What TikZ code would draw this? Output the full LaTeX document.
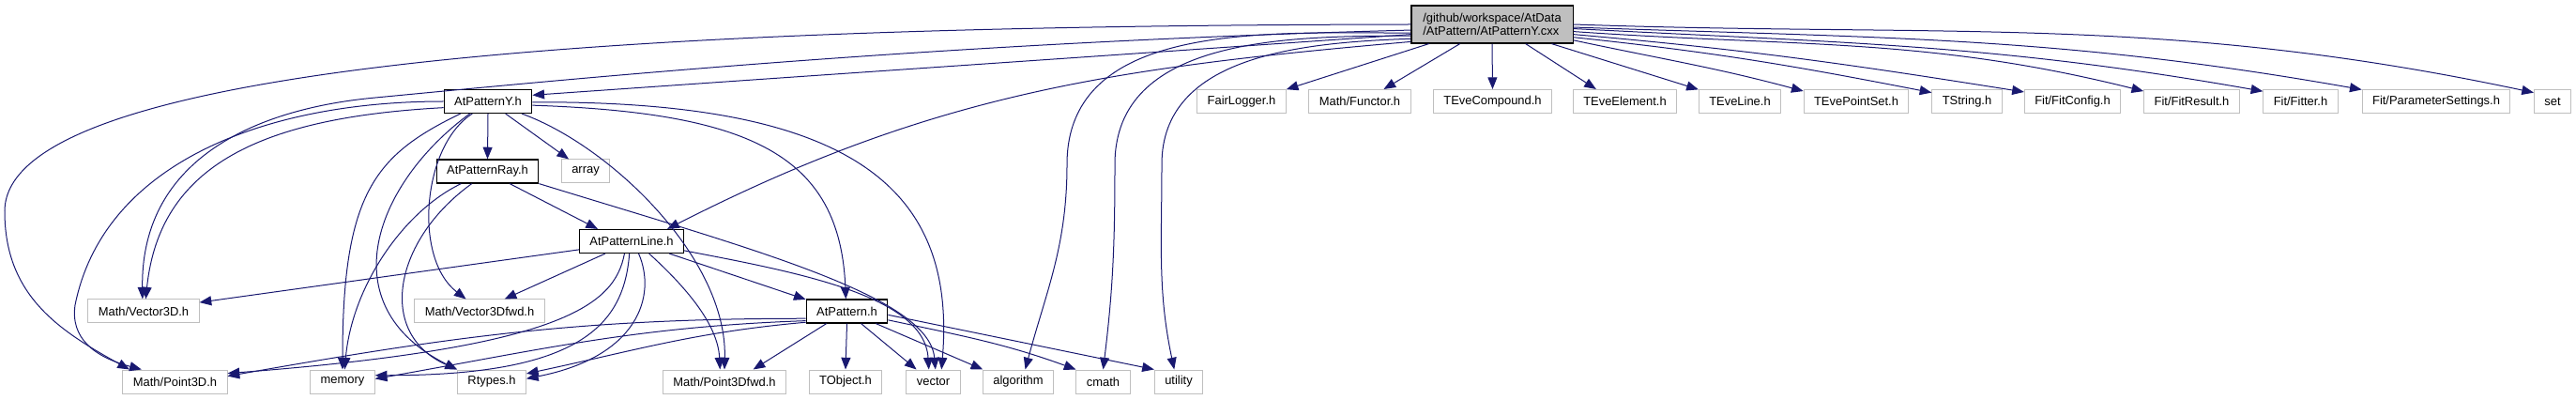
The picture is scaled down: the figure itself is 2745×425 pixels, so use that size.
\documentclass[tikz,border=0pt]{standalone}
\usepackage{fontspec}
\setmainfont{Liberation Sans}
\usetikzlibrary{arrows.meta}
\definecolor{edgeblue}{HTML}{191970}
\definecolor{sysgray}{HTML}{BFBFBF}
\tikzset{
	header/.style={draw=black,line width=0.9pt,fill=white,inner xsep=8.2pt,inner ysep=0pt,minimum height=18.75pt,font=\fontsize{9.7}{10.5}\selectfont},
	syshdr/.style={header,draw=sysgray,line width=0.75pt},
	dep/.style={draw=edgeblue,line width=0.75pt,-{Triangle[length=9.5pt,width=7.5pt]}}
}

\begin{document}
\begin{tikzpicture}[x=0.75pt,y=0.75pt]
\useasboundingbox (0,0) rectangle (2745,425);

%headers of the package
\node[header,fill=sysgray,align=left,minimum height=30pt,inner xsep=9.3pt] (root) at (1590,399) {/github/workspace/AtData\\/AtPattern/AtPatternY.cxx};
\node[header] (patY) at (520,317) {AtPatternY.h};
\node[header] (patRay) at (519.5,242.5) {AtPatternRay.h};
\node[header] (patLine) at (673,168) {AtPatternLine.h};
\node[header] (pat) at (902.5,93.5) {AtPattern.h};

%system headers
\node[syshdr] (array) at (624,242.5) {array};
\node[syshdr] (vecThree) at (153,93.5) {Math/Vector3D.h};
\node[syshdr] (vecFwd) at (511,93.5) {Math/Vector3Dfwd.h};
\foreach \nm/\x/\txt in {ptThree/186.5/{Math/Point3D.h},memory/365/memory,rtypes/524/Rtypes.h,ptFwd/772/{Math/Point3Dfwd.h},tobject/901/TObject.h,vector/994.5/vector,algorithm/1085/algorithm,cmath/1175.5/cmath,utility/1256/utility}
	\node[syshdr] (\nm) at (\x,18.5) {\txt};
\foreach \nm/\x/\txt in {logger/1323/FairLogger.h,functor/1449/{Math/Functor.h},compound/1590.5/TEveCompound.h,element/1731.5/TEveElement.h,eveline/1854/TEveLine.h,pointset/1978/TEvePointSet.h,tstring/2096/TString.h,fitconfig/2208.5/{Fit/FitConfig.h},fitresult/2335.5/{Fit/FitResult.h},fitter/2451.5/{Fit/Fitter.h},parset/2596/{Fit/ParameterSettings.h},set/2720/set}
	\node[syshdr] (\nm) at (\x,317) {\txt};

%includes of the .cxx
\draw[dep] (root.187) to[out=184,in=4] (patY.8);
\draw[dep] (root.184) .. controls (1000,380) and (600,340) .. (400,321) .. controls (280,310) and (150,260) .. (vecThree.95);
\draw[dep] (root.west) .. controls (700,398) and (5,360) .. (5,200) .. controls (5,110) and (63,73) .. (ptThree.165);
\draw[dep] (root.192) to[out=185,in=27] (patLine.19);
\draw[dep] (root.186) to[out=180,in=90] (1137,250) to[out=-90,in=75] (algorithm.60);
\draw[dep] (root.188) to[out=180,in=90] (1188,250) to[out=-90,in=83] (cmath.north);
\draw[dep] (root.190) to[out=182,in=90] (1238,250) to[out=-90,in=102] (utility.110);
\draw[dep] (root.197) -- (logger.15);
\draw[dep] (root.211) -- (functor.27);
\draw[dep] (root.south) -- (compound.north);
\draw[dep] (root.-30) -- (element.157);
\draw[dep] (root.-18) -- (eveline.164);
\foreach \nm/\s/\o/\i/\a in {pointset/-11/-12/165/169,tstring/-9/-6/169/166,fitconfig/-7/-5/171/169,fitresult/-5/-4/166/168,fitter/-3/-3/170/165,parset/-2/-2/170/171,set/0/-2/168/155}
	\draw[dep] (root.\s) to[out=\o,in=\i] (\nm.\a);

%AtPatternY.h
\draw[dep] (patY.south) -- (patRay.north);
\draw[dep] (patY.-35) -- (array.144);
\draw[dep] (patY.188) .. controls (280,300) and (170,250) .. (vecThree.80);
\draw[dep] (patY.west) .. controls (280,317) and (110,250) .. (80,100) .. controls (75,65) and (100,45) .. (ptThree.160);
\draw[dep] (patY.204) .. controls (400,260) and (365,220) .. (memory.north);
\draw[dep] (patY.214) .. controls (400,230) and (350,100) .. (rtypes.north west);
\draw[dep] (patY.218) .. controls (450,270) and (440,150) .. (vecFwd.138);
\draw[dep] (patY.-20) .. controls (650,270) and (775,150) .. (ptFwd.north);
\draw[dep] (patY.-5) .. controls (800,305) and (895,260) .. (pat.95);
\draw[dep] (patY.-1) .. controls (900,318) and (1020,230) .. (vector.56);

%AtPatternRay.h
\draw[dep] (patRay.-29) -- (patLine.160);
\draw[dep] (patRay.south east) .. controls (800,160) and (990,110) .. (vector.80);
\draw[dep] (patRay.205) .. controls (430,200) and (375,120) .. (memory.80);
\draw[dep] (patRay.218) .. controls (420,170) and (400,70) .. (rtypes.north west);

%AtPatternLine.h
\draw[dep] (patLine.189) -- (vecThree.9);
\draw[dep] (patLine.205) -- (vecFwd.26);
\draw[dep] (patLine.240) .. controls (655,100) and (600,55) .. (ptThree.9);
\draw[dep] (patLine.-100) .. controls (665,80) and (620,25) .. (memory.11);
\draw[dep] (patLine.-60) .. controls (700,110) and (680,45) .. (rtypes.5);
\draw[dep] (patLine.-35) .. controls (730,120) and (765,80) .. (ptFwd.110);
\draw[dep] (patLine.-18) -- (pat.164);
\draw[dep] (patLine.-10) .. controls (850,135) and (985,110) .. (vector.110);

%AtPattern.h
\draw[dep] (pat.190) to[out=180,in=10] (ptThree.6);
\draw[dep] (pat.193) to[out=182,in=10] (memory.5);
\draw[dep] (pat.195) to[out=185,in=12] (rtypes.13);
\draw[dep] (pat.211) -- (ptFwd.23);
\draw[dep] (pat.south) -- (tobject.north);
\draw[dep] (pat.-41) -- (vector.144);
\draw[dep] (pat.-23) -- (algorithm.161);
\draw[dep] (pat.-12) to[out=-12,in=160] (cmath.north west);
\draw[dep] (pat.-5) -- (utility.north west);
\end{tikzpicture}
\end{document}
